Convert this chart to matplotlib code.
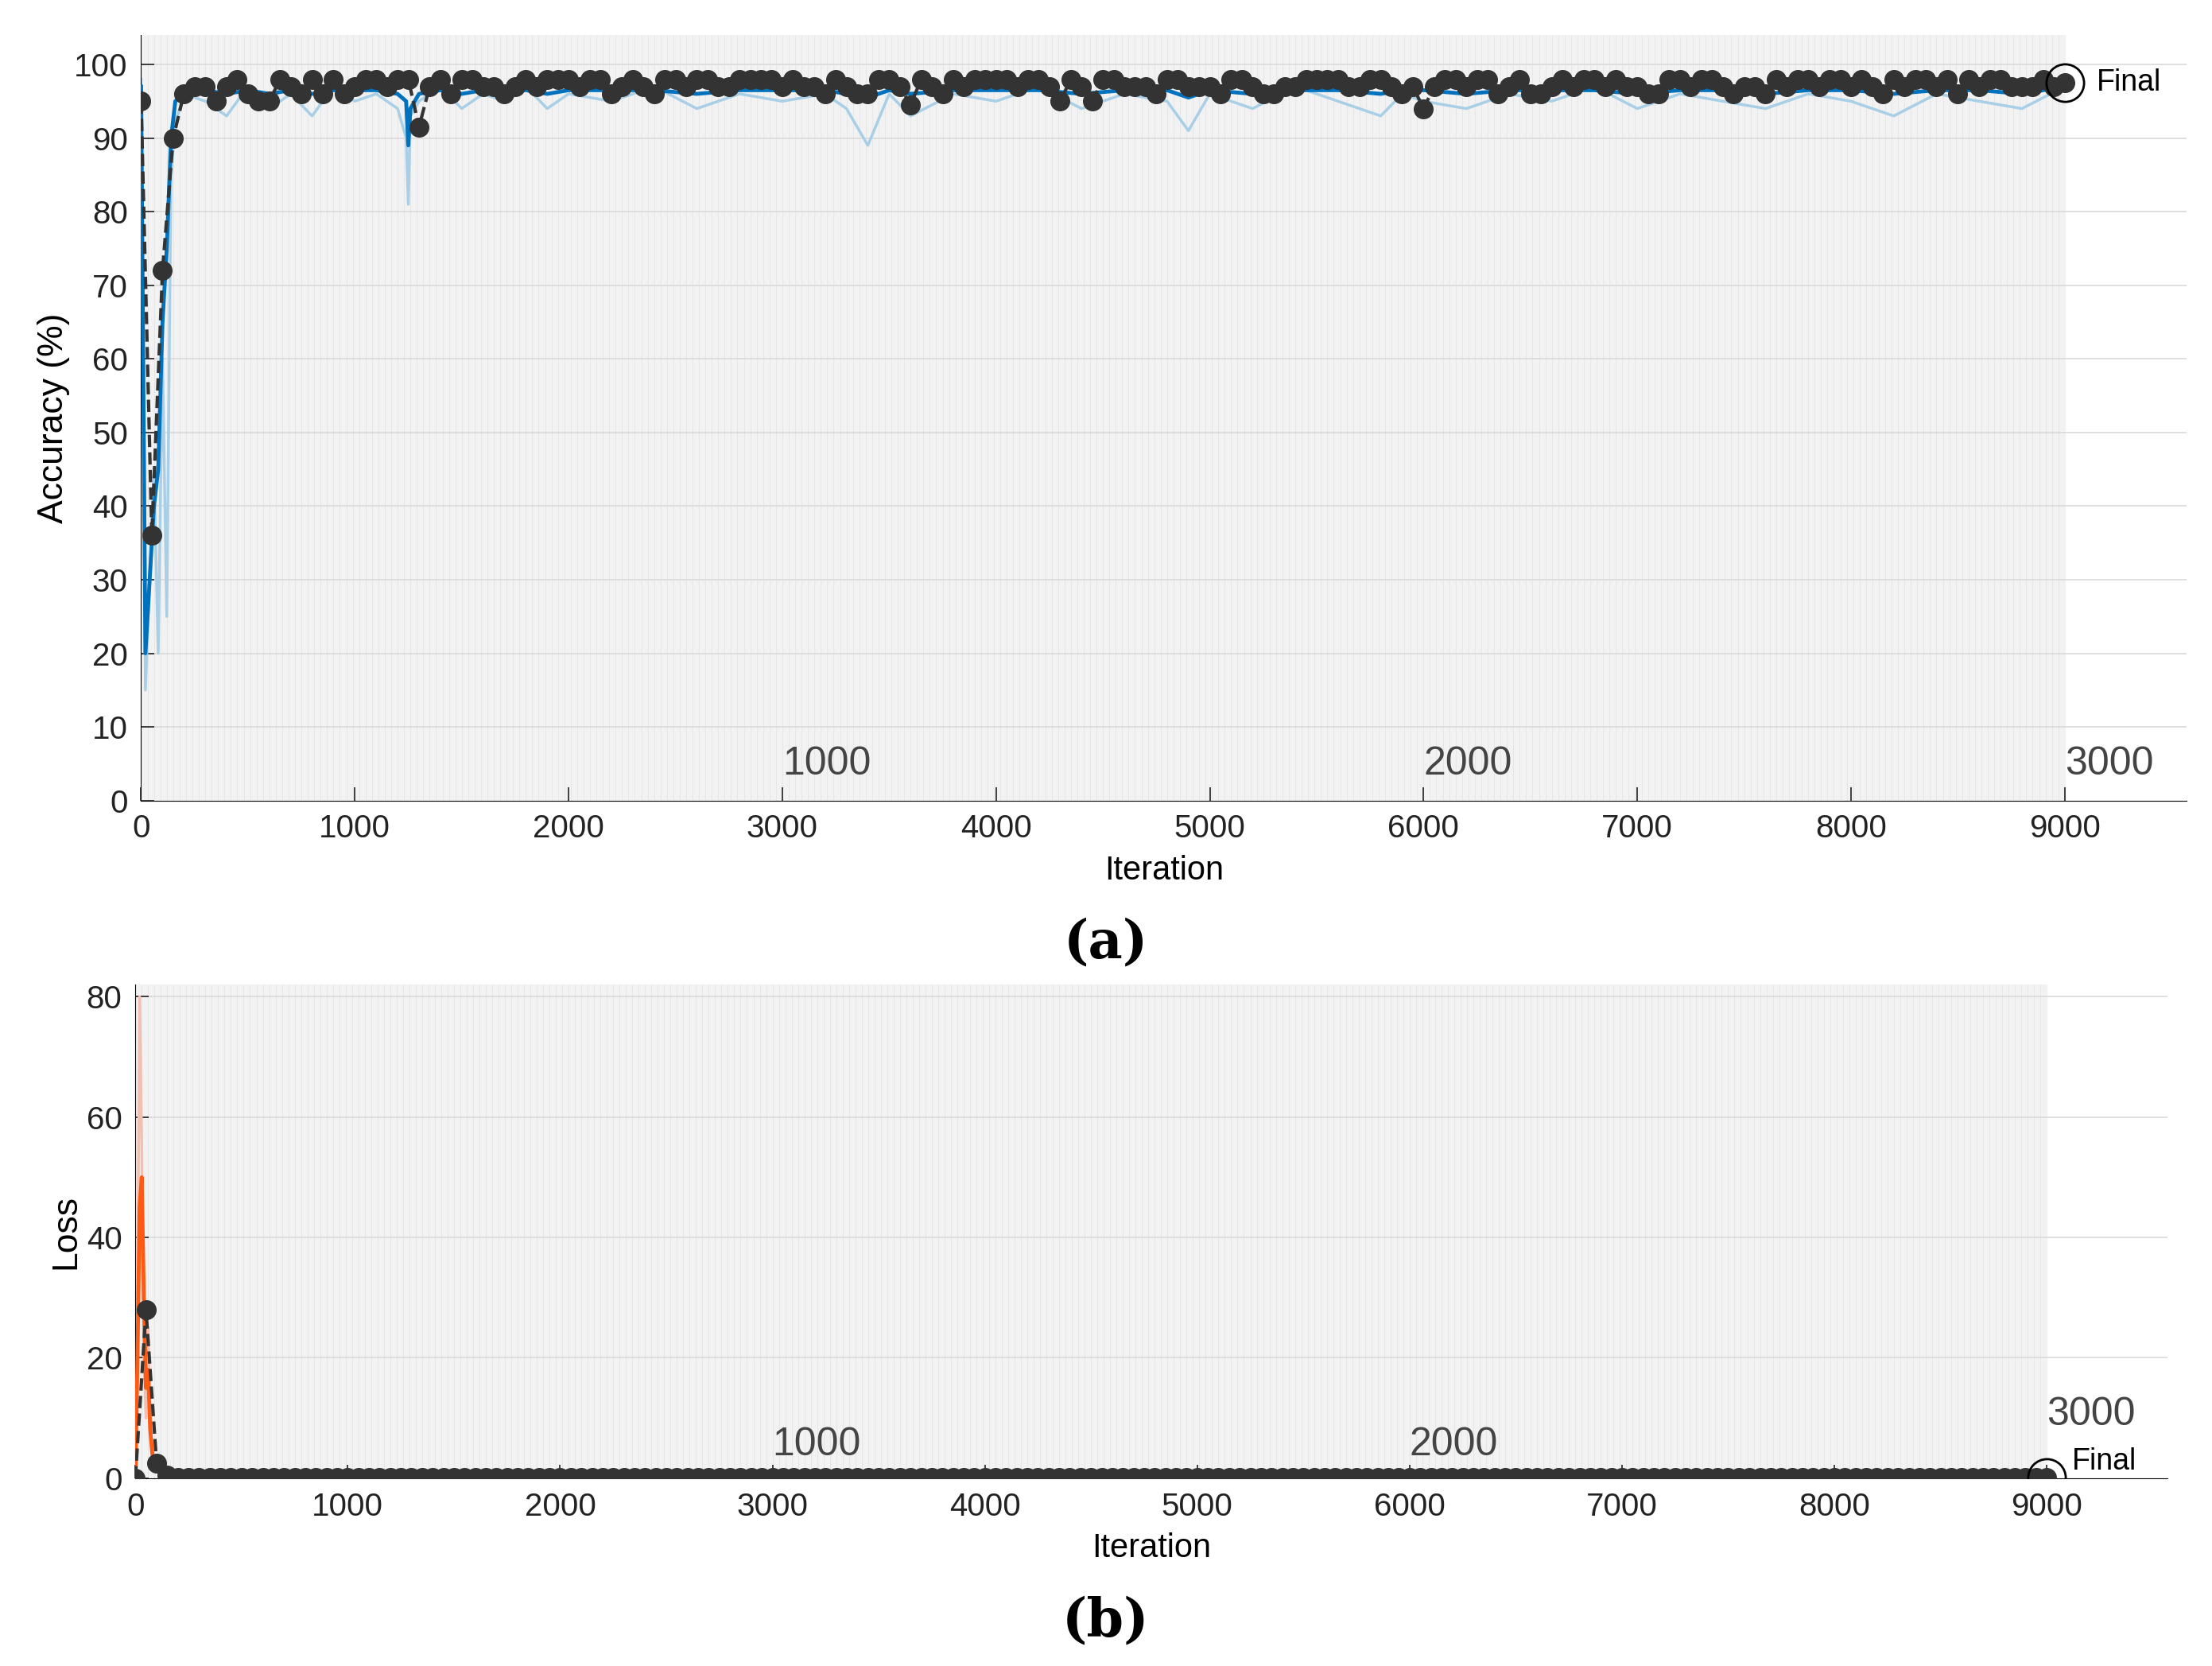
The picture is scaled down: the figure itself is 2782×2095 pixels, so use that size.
import numpy as np
import matplotlib
matplotlib.use("Agg")
import matplotlib.pyplot as plt

plt.rcParams['font.family'] = ['Liberation Sans', 'DejaVu Sans']

# ---- Accuracy data ----
val_acc = [95, 36, 72, 90, 96, 97, 97, 95, 97, 98, 96, 95, 95, 98, 97, 96, 98, 96, 98, 96,
           97, 98, 98, 97, 98, 98, 91.5, 97, 98, 96, 98, 98, 97, 97, 96, 97, 98, 97, 98, 98,
           98, 97, 98, 98, 96, 97, 98, 97, 96, 98, 98, 97, 98, 98, 97, 97, 98, 98, 98, 98,
           97, 98, 97, 97, 96, 98, 97, 96, 96, 98, 98, 97, 94.5, 98, 97, 96, 98, 97, 98, 98,
           98, 98, 97, 98, 98, 97, 95, 98, 97, 95, 98, 98, 97, 97, 97, 96, 98, 98, 97, 97,
           97, 96, 98, 98, 97, 96, 96, 97, 97, 98, 98, 98, 98, 97, 97, 98, 98, 97, 96, 97,
           94, 97, 98, 98, 97, 98, 98, 96, 97, 98, 96, 96, 97, 98, 97, 98, 98, 97, 98, 97,
           97, 96, 96, 98, 98, 97, 98, 98, 97, 96, 97, 97, 96, 98, 97, 98, 98, 97, 98, 98,
           97, 98, 97, 96, 98, 97, 98, 98, 97, 98, 96, 98, 97, 98, 98, 97, 97, 97, 98, 97, 97.5]
acc_raw_it = [0, 20, 40, 60, 80, 100, 120, 140, 160, 200, 300, 400, 500, 600, 700, 800, 900, 1000,
              1100, 1200, 1240, 1250, 1260, 1300, 1400, 1500, 1600, 1700, 1800, 1900, 2000, 2200,
              2400, 2600, 2800, 3000, 3200, 3300, 3400, 3500, 3600, 3800, 4000, 4200, 4400, 4600,
              4800, 4900, 5000, 5200, 5400, 5600, 5800, 5900, 6000, 6200, 6400, 6600, 6800, 7000,
              7200, 7400, 7600, 7800, 8000, 8200, 8400, 8600, 8800, 9000]
acc_raw = [98, 15, 30, 45, 20, 60, 25, 85, 92, 96, 95, 93, 97, 94, 96, 93, 97, 95, 96, 94, 90, 81,
           93, 95, 97, 94, 96, 95, 97, 94, 96, 95, 97, 94, 96, 95, 96, 94, 89, 96, 93, 96, 95, 97,
           94, 96, 95, 91, 96, 94, 97, 95, 93, 96, 95, 94, 96, 95, 97, 94, 96, 95, 94, 96, 95, 93,
           96, 95, 94, 97]
acc_sm = [97, 20, 30, 40, 45, 65, 75, 90, 95, 96, 96.5, 96, 96.5, 96, 96.5, 96, 96.5, 96.5, 96.5,
          96, 95, 89, 94, 96, 96.5, 96, 96.5, 96.5, 96.5, 96, 96.5, 96.5, 96.5, 96, 96.5, 96.5,
          96.5, 96, 95.5, 96.5, 96, 96.5, 96.5, 96.5, 96, 96.5, 96.5, 95.5, 96.5, 96, 96.5, 96.5,
          96, 96.5, 96.5, 96, 96.5, 96.5, 96.5, 96, 96.5, 96.5, 96, 96.5, 96.5, 96, 96.5, 96.5,
          96, 97]

# ---- Loss data ----
loss_it = [0, 10, 20, 30, 40, 50, 60, 70, 80, 100, 120, 150, 200, 400, 1000, 2000, 3000, 4000,
           5000, 6000, 7000, 8000, 9000]
loss_raw = [0, 30, 80, 55, 20, 10, 25, 8, 4, 2, 1, 0.5, 0.2, 0.1, 0.1, 0.1, 0.1, 0.1, 0.1, 0.1,
            0.1, 0.1, 0.1]
loss_sm = [0, 20, 45, 50, 30, 15, 18, 8, 4, 2, 1, 0.4, 0.2, 0.1, 0.1, 0.1, 0.1, 0.1, 0.1, 0.1,
           0.1, 0.1, 0.1]
val_loss_first = [0, 28, 2.5, 0.5]
val_loss_rest = 0.1

epochs = [1000, 2000, 3000]
epoch_it = [3000, 6000, 9000]

W, H = 2782, 2095
fig = plt.figure(figsize=(W / 100, H / 100), dpi=100)
ax1 = fig.add_axes([0.0638, 0.5195, 0.9247, 0.4595])
ax2 = fig.add_axes([0.0612, 0.1127, 0.9188, 0.2963])

def style(ax, ymax, yticks, epoch_y):
    ax.set_facecolor('white')
    ax.axvspan(0, 9000, color='#f2f2f2', zorder=0)
    ax.vlines(np.arange(0, 9000, 30), 0, ymax, color='#e4e4e4', lw=0.6, zorder=0)
    for y in yticks[1:]:
        ax.axhline(y, color='#d9d9d9', lw=1.2, zorder=0.5)
    ax.set_xlim(0, 9570)
    ax.set_ylim(0, ymax)
    ax.set_xticks(range(0, 9001, 1000))
    ax.set_yticks(yticks)
    for s in ['top', 'right']:
        ax.spines[s].set_visible(False)
    ax.tick_params(labelsize=29, length=12, width=1.2, colors='#222222', direction='in', pad=12)
    ax.set_xlabel('Iteration', fontsize=30, labelpad=10)
    for e, it in zip(epochs, epoch_it):
        ax.text(it, epoch_y, str(e), fontsize=36, color='#444444', ha='left', va='bottom')

style(ax1, 104, list(range(0, 101, 10)), 2.5)
val_it = list(range(0, 9001, 50))
ax1.plot(acc_raw_it, acc_raw, color='#a8cfe6', lw=2.5, zorder=2)
ax1.plot(acc_raw_it, acc_sm, color='#0072bd', lw=3.5, zorder=3)
ax1.plot(val_it, val_acc, color='#333333', ls='--', lw=3, marker='o', ms=17, zorder=4)
ax1.plot([9000], [val_acc[-1]], 'o', mfc='none', mec='black', ms=34, mew=2, zorder=5)
ax1.text(9150, val_acc[-1], 'Final', fontsize=27, va='center')
ax1.set_ylabel('Accuracy (%)', fontsize=32)

style(ax2, 82, list(range(0, 81, 20)), 2.5)
ax2.plot(loss_it, loss_raw, color='#f2c0b0', lw=2.5, zorder=2)
ax2.plot(loss_it, loss_sm, color='#ff5a14', lw=3.5, zorder=3)
vl = val_loss_first + [val_loss_rest] * (len(val_it) - len(val_loss_first))
ax2.plot(val_it, vl, color='#333333', ls='--', lw=3, marker='o', ms=17, zorder=4)
ax2.plot([9000], [vl[-1]], 'o', mfc='none', mec='black', ms=34, mew=2, zorder=5)
ax2.texts[-1].set_position((9000, 7.5))
ax2.text(9120, 0.4, 'Final', fontsize=27, va='bottom')
ax2.set_ylabel('Loss', fontsize=32)

fig.text(0.5, 0.425, '(a)', fontsize=48, fontweight='bold', family='DejaVu Serif', ha='center')
fig.text(0.5, 0.018, '(b)', fontsize=48, fontweight='bold', family='DejaVu Serif', ha='center')

fig.savefig('out.png', dpi=100)
